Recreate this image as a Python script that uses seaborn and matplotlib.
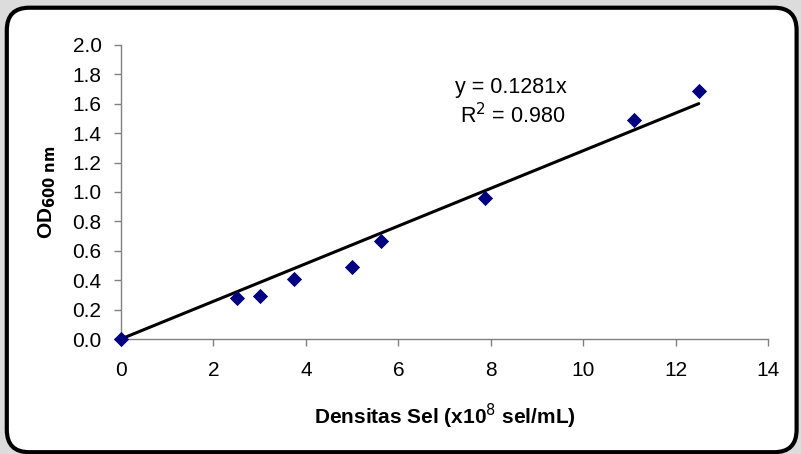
import matplotlib
matplotlib.use("Agg")
import matplotlib.pyplot as plt
import seaborn as sns
import numpy as np
import pandas as pd
from matplotlib.patches import FancyBboxPatch

density = [0.0, 2.5, 3.0, 3.75, 5.0, 5.63, 7.88, 11.1, 12.5]
od600 = [0.0, 0.28, 0.29, 0.41, 0.49, 0.67, 0.96, 1.49, 1.69]
slope = 0.1281
r2_text = "0.980"
x_ticks = [0, 2, 4, 6, 8, 10, 12, 14]
y_ticks = [0.0, 0.2, 0.4, 0.6, 0.8, 1.0, 1.2, 1.4, 1.6, 1.8, 2.0]

sns.set_theme(style="white")
plt.rcParams['font.family'] = ['Liberation Sans', 'DejaVu Sans']
plt.rcParams['text.color'] = 'black'
plt.rcParams['axes.labelcolor'] = 'black'
plt.rcParams['xtick.color'] = 'black'
plt.rcParams['ytick.color'] = 'black'

df = pd.DataFrame({"x": density, "y": od600})
fit_x = [0.0, max(density)]
fit_df = pd.DataFrame({"x": fit_x, "y": [slope * v for v in fit_x]})

fig = plt.figure(figsize=(8.01, 4.54), dpi=100)
fig.patch.set_facecolor('#dcdcdc')
frame = FancyBboxPatch((0.0085, 0.004), 0.986, 0.979, boxstyle="round,pad=0,rounding_size=0.028",
                       transform=fig.transFigure, facecolor='white', edgecolor='black',
                       linewidth=3, zorder=-10, mutation_aspect=801/454)
fig.patches.append(frame)

ax = fig.add_axes([0.151, 0.2533, 0.808, 0.6476])
ax.set_zorder(5)
ax.set_facecolor('none')
sns.lineplot(data=fit_df, x="x", y="y", ax=ax, color='black', linewidth=2.2, zorder=2)
sns.scatterplot(data=df, x="x", y="y", ax=ax, marker='D', color='#000080', s=60,
                edgecolor='#000080', linewidth=0, zorder=3, clip_on=False)

ax.set_xlim(0, 14)
ax.set_ylim(0, 2.0)
ax.set_xticks(x_ticks)
ax.set_yticks(y_ticks)
ax.set_xticklabels([str(t) for t in x_ticks], fontsize=15)
ax.set_yticklabels([f"{t:.1f}" for t in y_ticks], fontsize=15)
ax.tick_params(axis='both', direction='out', length=5, width=1, color='#808080',
               labelcolor='black', bottom=True, left=True)
ax.tick_params(axis='x', pad=11)
ax.tick_params(axis='y', pad=9)
for s in ['top', 'right']:
    ax.spines[s].set_visible(False)
for s in ['left', 'bottom']:
    ax.spines[s].set_color('#808080')
    ax.spines[s].set_linewidth(1)

ax.set_xlabel("Densitas Sel (x10$^{8}$ sel/mL)", fontsize=15, fontweight='bold', color='black')
ax.set_ylabel(r"OD$_{\mathbf{600\ nm}}$", fontsize=15, fontweight='bold', color='black')
ax.xaxis.set_label_coords(0.5, -0.215)
ax.yaxis.set_label_coords(-0.097, 0.5)

ax.text(8.44, 1.714, f"y = {slope}x", fontsize=15.5, ha='center', va='center', color='black')
ax.text(8.48, 1.518, f"R$^{{2}}$ = {r2_text}", fontsize=15.5, ha='center', va='center', color='black')

fig.savefig("out.png", dpi=100)
